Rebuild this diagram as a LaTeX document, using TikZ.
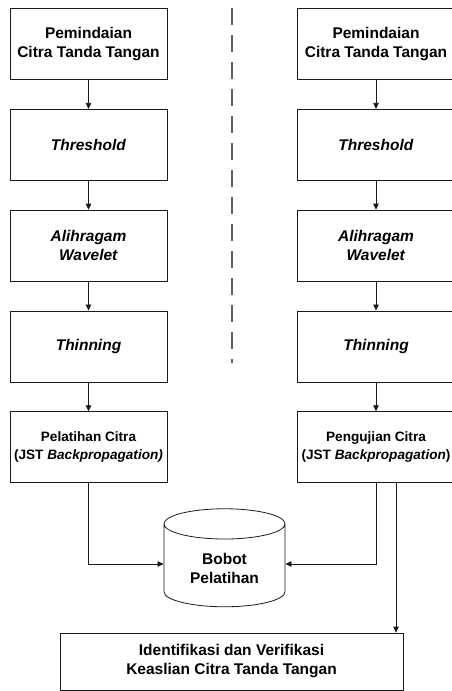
\documentclass[tikz,border=0pt]{standalone}
\usepackage{fontspec}
\setmainfont{Liberation Sans}
\usetikzlibrary{positioning,arrows.meta,shapes.geometric}
\definecolor{garis}{HTML}{1A1A1A}
\definecolor{putus}{HTML}{606060}

\begin{document}
\begin{tikzpicture}[x=1pt,y=1pt,
      kotak/.style={draw=garis,line width=0.8pt,minimum width=157pt,minimum height=71pt,
                    align=center,font=\fontsize{15.5}{19}\selectfont\bfseries},
      kecil/.style={kotak,font=\fontsize{13.6}{18}\selectfont\bfseries},
      basis/.style={cylinder,shape border rotate=90,aspect=0.4,draw=garis,line width=0.8pt,
                    minimum width=121pt,minimum height=98pt,align=center,
                    font=\fontsize{15.5}{19}\selectfont\bfseries},
      fl/.style={-{Triangle[length=6pt,width=5.5pt]},line width=0.8pt,garis},
      pisah/.style={putus,line width=1.4pt,dash pattern=on 17pt off 10pt},
      node distance=29pt]
    \useasboundingbox (0,0) rectangle (451,-691);
    % kolom pelatihan
    \node[kotak] (scanA) at (88.5,-44) {Pemindaian\\Citra Tanda Tangan};
    \node[kotak,below=of scanA] (thrA) {\textit{Threshold}};
    \node[kotak,below=of thrA] (wavA) {\textit{Alihragam}\\\textit{Wavelet}};
    \node[kotak,below=of wavA] (thinA) {\textit{Thinning}};
    \node[kecil,below=of thinA] (latih) {Pelatihan Citra\\(JST \textit{Backpropagation)}};
    % kolom pengujian
    \node[kotak] (scanB) at (376,-44) {Pemindaian\\Citra Tanda Tangan};
    \node[kotak,below=of scanB] (thrB) {\textit{Threshold}};
    \node[kotak,below=of thrB] (wavB) {\textit{Alihragam}\\\textit{Wavelet}};
    \node[kotak,below=of wavB] (thinB) {\textit{Thinning}};
    \node[kecil,below=of thinB] (uji) {Pengujian Citra\\(JST \textit{Backpropagation})};
    \node[basis] (bobot) at (224.5,-568) {Bobot\\Pelatihan};
    \node[kotak,minimum width=343pt,minimum height=57pt] (hasil) at (231.5,-661.5)
         {Identifikasi dan Verifikasi\\Keaslian Citra Tanda Tangan};
    % garis pemisah
    \coordinate (pisahA) at (232,-8);
    \coordinate (pisahB) at (232,-363);
    \draw[pisah] (pisahA) -- (pisahB);
    \draw[fl] (scanA) -- (thrA);
    \draw[fl] (thrA) -- (wavA);
    \draw[fl] (wavA) -- (thinA);
    \draw[fl] (thinA) -- (latih);
    \draw[fl] (scanB) -- (thrB);
    \draw[fl] (thrB) -- (wavB);
    \draw[fl] (wavB) -- (thinB);
    \draw[fl] (thinB) -- (uji);
    \draw[fl] (latih.south) |- ([yshift=4pt]bobot.west);
    \draw[fl] (uji.south) |- ([yshift=4pt]bobot.east);
    \draw[fl] ([xshift=20pt]uji.south) -- ([xshift=20pt]uji.south |- hasil.north);
\end{tikzpicture}
\end{document}
